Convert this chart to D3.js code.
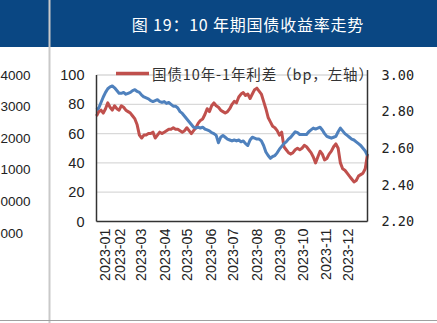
<!DOCTYPE html>
<html><head><meta charset="utf-8">
<script src="https://cdn.jsdelivr.net/npm/d3@7"></script>
<style>body{margin:0;background:#fff}svg{display:block}</style>
</head><body>
<svg id="c" width="437" height="323"></svg>
<script>
// ---- data ----
const title = "图 19：10 年期国债收益率走势";
const legendLabel = "国债10年-1年利差（bp，左轴）";
const leftTicks = [0, 20, 40, 60, 80, 100];
const rightTicks = [2.2, 2.4, 2.6, 2.8, 3.0];
const monthLabels = ["2023-01","2023-02","2023-03","2023-04","2023-05","2023-06","2023-07","2023-08","2023-09","2023-10","2023-11","2023-12"];
const neighbourLabels = ["4000","3000","2000","1000","0000","000"];
const dates = ["2023-01-03","2023-01-06","2023-01-09","2023-01-12","2023-01-15","2023-01-18","2023-01-21","2023-01-24","2023-01-27","2023-01-30",
"2023-02-02","2023-02-05","2023-02-08","2023-02-11","2023-02-14","2023-02-17","2023-02-20","2023-02-23","2023-02-26","2023-03-01",
"2023-03-04","2023-03-07","2023-03-10","2023-03-13","2023-03-16","2023-03-19","2023-03-22","2023-03-25","2023-03-28","2023-03-31",
"2023-04-03","2023-04-06","2023-04-09","2023-04-12","2023-04-15","2023-04-18","2023-04-21","2023-04-24","2023-04-27","2023-04-30",
"2023-05-03","2023-05-06","2023-05-09","2023-05-12","2023-05-15","2023-05-18","2023-05-21","2023-05-24","2023-05-27","2023-05-30",
"2023-06-02","2023-06-05","2023-06-08","2023-06-11","2023-06-14","2023-06-17","2023-06-20","2023-06-23","2023-06-26","2023-06-29",
"2023-07-02","2023-07-05","2023-07-08","2023-07-11","2023-07-14","2023-07-17","2023-07-20","2023-07-23","2023-07-26","2023-07-29",
"2023-08-01","2023-08-04","2023-08-07","2023-08-10","2023-08-13","2023-08-16","2023-08-19","2023-08-22","2023-08-25","2023-08-28",
"2023-08-31","2023-09-03","2023-09-06","2023-09-09","2023-09-12","2023-09-15","2023-09-18","2023-09-21","2023-09-24","2023-09-27",
"2023-09-30","2023-10-03","2023-10-06","2023-10-09","2023-10-12","2023-10-15","2023-10-18","2023-10-21","2023-10-24","2023-10-27",
"2023-10-30","2023-11-02","2023-11-05","2023-11-08","2023-11-11","2023-11-14","2023-11-17","2023-11-20","2023-11-23","2023-11-26",
"2023-11-29","2023-12-02","2023-12-05","2023-12-08","2023-12-11","2023-12-14","2023-12-17","2023-12-20","2023-12-23","2023-12-26",
"2023-12-29"];
// 10Y - 1Y spread (bp, left axis)
const spread = [72,75,76,74,77,81,78,76,79,77,
76,79,78,76,75,74,72,70,66,59,
57,59,59,60,60,61,57,59,61,60,
61,62,63,63,64,63,63,62,61,62,
64,62,60,62,64,67,69,70,73,77,
75,79,81,79,78,76,75,74,75,77,
80,82,81,85,87,88,86,87,84,87,
90,91,89,87,82,77,71,68,65,64,
62,59,61,51,49,47,46,47,49,50,
49,50,52,51,49,47,44,40,44,48,
46,42,43,46,48,51,53,50,40,36,
35,33,31,29,27,28,31,32,33,36,
46];
// 10Y yield (%, right axis)
const yield10 = [2.81,2.82,2.85,2.88,2.905,2.925,2.935,2.94,2.93,2.915,
2.90,2.90,2.905,2.895,2.90,2.905,2.915,2.92,2.91,2.905,
2.89,2.88,2.875,2.87,2.86,2.855,2.86,2.865,2.855,2.85,
2.855,2.845,2.85,2.84,2.83,2.83,2.82,2.80,2.79,2.775,
2.76,2.745,2.73,2.715,2.71,2.715,2.71,2.715,2.705,2.70,
2.695,2.685,2.68,2.67,2.63,2.66,2.67,2.66,2.65,2.645,
2.64,2.645,2.64,2.645,2.635,2.64,2.625,2.615,2.645,2.66,
2.655,2.65,2.65,2.64,2.615,2.58,2.56,2.545,2.555,2.56,
2.575,2.595,2.61,2.625,2.635,2.65,2.66,2.675,2.69,2.685,
2.675,2.675,2.675,2.675,2.69,2.70,2.71,2.705,2.71,2.715,
2.70,2.68,2.665,2.66,2.655,2.66,2.665,2.69,2.71,2.695,
2.68,2.67,2.66,2.65,2.645,2.635,2.625,2.615,2.60,2.585,
2.56];

// ---- layout ----
const W = 437, H = 323;
const L = 96.5, R = 367.5, T = 75, B = 221.5;
const parse = d3.timeParse("%Y-%m-%d");
const svg = d3.select("#c");

svg.append("rect").attr("x",0).attr("y",0).attr("width",W).attr("height",H).attr("fill","#fff");
svg.append("rect").attr("x",0).attr("y",0).attr("width",W).attr("height",47).attr("fill","#0a4783");
svg.append("line").attr("x1",49.5).attr("x2",49.5).attr("y1",0).attr("y2",H).attr("stroke","#c9c9c9").attr("stroke-width",2);
svg.append("line").attr("x1",0).attr("x2",W).attr("y1",320.5).attr("y2",320.5).attr("stroke","#a0a0a0").attr("stroke-width",1);

svg.append("text").attr("x",248).attr("y",24).attr("text-anchor","middle").attr("dominant-baseline","central")
  .attr("fill","#fff").attr("font-family","'Noto Sans CJK SC'").attr("font-size",16).attr("letter-spacing",0.8)
  .text(title);

// neighbouring chart's labels (partly visible at left edge)
const nScale = d3.scalePoint().domain(neighbourLabels).range([75, 233]);
svg.append("g").selectAll("text").data(neighbourLabels).join("text")
  .attr("x",0.5).attr("y",d=>nScale(d)).attr("dominant-baseline","central")
  .attr("font-family","'Liberation Sans',Arial").attr("font-size",13.5).attr("fill","#222").text(d=>d);

const x = d3.scaleTime().domain([parse(dates[0]), parse(dates[dates.length-1])]).range([L, R]);
const yL = d3.scaleLinear().domain([0,100]).range([B, T]);
const yR = d3.scaleLinear().domain([2.2,3.0]).range([B, T]);

// gridlines
svg.append("g").selectAll("line").data(leftTicks.slice(1)).join("line")
  .attr("x1",L).attr("x2",R).attr("y1",d=>yL(d)).attr("y2",d=>yL(d))
  .attr("stroke","#d9d9d9").attr("stroke-width",1.3);

// left axis
const gl = svg.append("g").attr("transform",`translate(${L},0)`)
  .call(d3.axisLeft(yL).tickValues(leftTicks).tickSize(0).tickPadding(12).tickFormat(d3.format("d")));
gl.select(".domain").remove();
gl.selectAll("text").attr("font-family","'Liberation Sans',Arial").attr("font-size",14.5).attr("fill","#222");

// right axis
const gr = svg.append("g").attr("transform",`translate(${R},0)`)
  .call(d3.axisRight(yR).tickValues(rightTicks).tickSize(0).tickPadding(14).tickFormat(d3.format(".2f")));
gr.select(".domain").remove();
gr.selectAll("text").attr("font-family","'DejaVu Sans Mono'").attr("font-size",13.5).attr("fill","#222");

// x axis
const tickDates = monthLabels.map(m => parse(m + "-03"));
const gx = svg.append("g").attr("transform",`translate(0,${B})`)
  .call(d3.axisBottom(x).tickValues(tickDates).tickSize(0).tickFormat(d3.timeFormat("%Y-%m")));
gx.select(".domain").remove();
gx.selectAll("text")
  .attr("font-family","'Liberation Sans',Arial").attr("font-size",14.3).attr("fill","#222")
  .attr("text-anchor","end").attr("dy","0.35em")
  .attr("transform",(d,i)=>`translate(${i===0?7.5:0},0) rotate(-90)`).attr("x",-7).attr("y",0);

// series
const pts = dates.map((d,i)=>({date:parse(d), s:spread[i], y:yield10[i]}));
svg.append("path").datum(pts).attr("fill","none").attr("stroke","#c0504d").attr("stroke-width",3)
  .attr("stroke-linejoin","round").attr("d", d3.line().x(d=>x(d.date)).y(d=>yL(d.s)));
svg.append("path").datum(pts).attr("fill","none").attr("stroke","#4f81bd").attr("stroke-width",3)
  .attr("stroke-linejoin","round").attr("d", d3.line().x(d=>x(d.date)).y(d=>yR(d.y)));

// axis frame lines
svg.append("line").attr("x1",L).attr("x2",L).attr("y1",T).attr("y2",B).attr("stroke","#333").attr("stroke-width",1.5);
svg.append("line").attr("x1",R).attr("x2",R).attr("y1",T-5).attr("y2",B).attr("stroke","#333").attr("stroke-width",1.5);
svg.append("line").attr("x1",L).attr("x2",R).attr("y1",B).attr("y2",B).attr("stroke","#333").attr("stroke-width",1.5);

// legend
svg.append("line").attr("x1",116).attr("x2",149).attr("y1",73.5).attr("y2",73.5).attr("stroke","#c0504d").attr("stroke-width",3.5);
svg.append("text").attr("x",152).attr("y",73.5).attr("dominant-baseline","central")
  .attr("font-family","'Noto Sans CJK SC'").attr("font-size",14.5).attr("letter-spacing",0.9).attr("fill","#333").text(legendLabel);
</script>
</body></html>
